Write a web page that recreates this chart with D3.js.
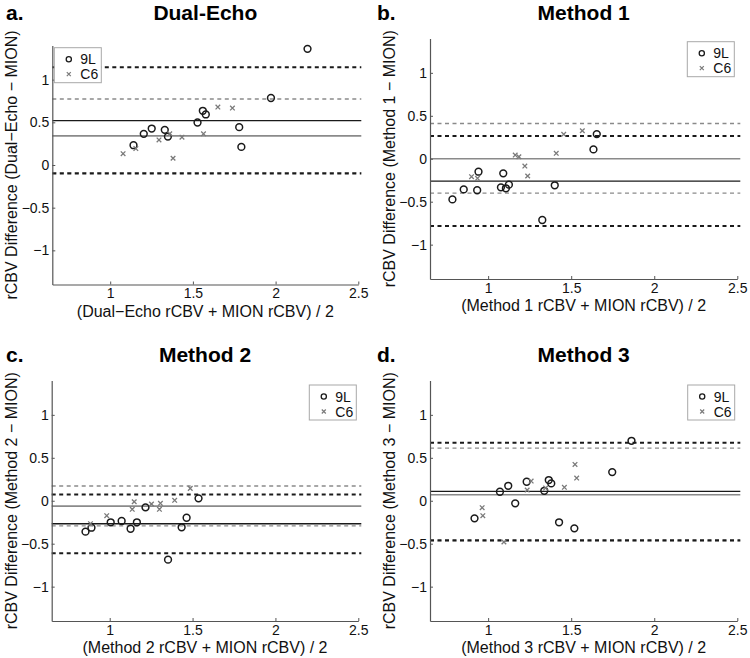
<!DOCTYPE html>
<html><head><meta charset="utf-8">
<script src="https://cdn.jsdelivr.net/npm/d3@7"></script>
<style>
body{margin:0;background:#fff}
text{font-family:"Liberation Sans",Arial,Helvetica,sans-serif}
</style>
</head><body>
<svg id="chart" width="750" height="658"></svg>
<script>
// ---- data ----
const xTicks = [1, 1.5, 2, 2.5];
const yTicks = [-1, -0.5, 0, 0.5, 1];
const xDomain = [0.65, 2.5];
const yDomain = [-1.4, 1.4];
const legendLabels = ["9L", "C6"];

// panel a: Dual-Echo
const dualEcho9L = [[1.141,0.232],[1.203,0.365],[1.251,0.427],[1.330,0.412],[1.349,0.333],[1.528,0.498],[1.560,0.635],[1.578,0.592],[1.780,0.443],[1.793,0.212],[1.972,0.785],[2.193,1.361]];
const dualEchoC6 = [[1.078,0.133],[1.155,0.192],[1.295,0.294],[1.360,0.365],[1.380,0.079],[1.434,0.326],[1.564,0.365],[1.651,0.679],[1.739,0.667]];
const dualEchoLines9L = [1.145, 0.52, -0.10];   // upper limit, mean, lower limit
const dualEchoLinesC6 = [0.773, 0.341, -0.09];

// panel b: Method 1
const method1_9L = [[0.785,-0.473],[0.853,-0.357],[0.934,-0.367],[0.942,-0.151],[1.077,-0.333],[1.091,-0.170],[1.107,-0.344],[1.125,-0.302],[1.401,-0.309],[1.326,-0.713],[1.634,0.109],[1.654,0.287]];
const method1_C6 = [[0.900,-0.209],[0.936,-0.228],[1.163,0.043],[1.185,0.023],[1.221,-0.085],[1.238,-0.201],[1.410,0.063],[1.455,0.284],[1.567,0.326]];
const method1Lines9L = [0.264, -0.26, -0.784];
const method1LinesC6 = [0.41, 0.0, -0.40];

// panel c: Method 2
const method2_9L = [[0.854,-0.360],[0.890,-0.314],[1.006,-0.251],[1.072,-0.236],[1.126,-0.326],[1.164,-0.251],[1.216,-0.077],[1.352,-0.686],[1.434,-0.309],[1.464,-0.198],[1.536,0.028]];
const method2_C6 = [[0.884,-0.267],[0.982,-0.174],[1.136,-0.100],[1.148,-0.012],[1.252,-0.038],[1.300,-0.100],[1.306,-0.030],[1.392,0.005],[1.486,0.144]];
const method2Lines9L = [0.074, -0.267, -0.61];
const method2LinesC6 = [0.171, -0.062, -0.293];

// panel d: Method 3
const method3_9L = [[0.918,-0.205],[1.071,0.105],[1.121,0.174],[1.163,-0.030],[1.232,0.221],[1.338,0.116],[1.365,0.241],[1.380,0.202],[1.427,-0.251],[1.519,-0.321],[1.747,0.334],[1.863,0.698]];
const method3_C6 = [[0.964,-0.081],[0.968,-0.174],[1.095,-0.480],[1.235,0.124],[1.259,0.229],[1.346,0.148],[1.459,0.156],[1.523,0.423],[1.533,0.264]];
const method3Lines9L = [0.674, 0.109, -0.46];
const method3LinesC6 = [0.613, 0.07, -0.47];

const panelLetters = ["a.", "b.", "c.", "d."];
const panelTitles = ["Dual-Echo", "Method 1", "Method 2", "Method 3"];
const methodNames = ["Dual\u2212Echo", "Method 1", "Method 2", "Method 3"];

// ---- layout ----
const panels = [
  {left:52.3, right:358.3, top:45.5, bottom:284.5, legend:[54.3,47.7], s9:dualEcho9L, sC:dualEchoC6, l9:dualEchoLines9L, lC:dualEchoLinesC6},
  {left:430, right:737.3, top:38.5, bottom:279, legend:[687.3,41.7], s9:method1_9L, sC:method1_C6, l9:method1Lines9L, lC:method1LinesC6},
  {left:51.7, right:358.3, top:380.5, bottom:621, legend:[309.3,385], s9:method2_9L, sC:method2_C6, l9:method2Lines9L, lC:method2LinesC6},
  {left:430, right:737.3, top:380.5, bottom:621, legend:[687.7,385], s9:method3_9L, sC:method3_C6, l9:method3Lines9L, lC:method3LinesC6}
];

const svg = d3.select("#chart");
const fmt = d => d < 0 ? "\u2212" + Math.abs(d) : String(d);
const AXIS = "#555", BLACK = "#1a1a1a", GRAY = "#7a7a7a";

panels.forEach((p, i) => {
  const g = svg.append("g");
  const x = d3.scaleLinear().domain(xDomain).range([p.left, p.right]);
  const y = d3.scaleLinear().domain(yDomain).range([p.bottom, p.top]);

  // reference lines (gray group first, black on top)
  const drawLines = (vals, color, solidW, dashW) => {
    vals.forEach((v, k) => {
      const dashed = k !== 1;
      g.append("line")
        .attr("x1", x(xDomain[0])).attr("x2", x(xDomain[1]) + 3)
        .attr("y1", y(v)).attr("y2", y(v))
        .attr("stroke", color)
        .attr("stroke-width", dashed ? dashW : solidW)
        .attr("stroke-dasharray", dashed ? "4,3.5" : null);
    });
  };
  drawLines(p.lC, "#8a8a8a", 1.6, 1.4);
  drawLines(p.l9, BLACK, 1.4, 2.0);

  // axes
  const ax = g.append("g").attr("transform", `translate(0,${p.bottom})`)
    .call(d3.axisBottom(x).tickValues(xTicks).tickFormat(fmt).tickSize(-3).tickSizeOuter(0).tickPadding(4));
  const ay = g.append("g").attr("transform", `translate(${p.left},0)`)
    .call(d3.axisLeft(y).tickValues(yTicks).tickFormat(fmt).tickSize(-3).tickSizeOuter(0).tickPadding(3));
  [ax, ay].forEach(a => {
    a.select(".domain").attr("stroke", AXIS).attr("stroke-width", 1.2);
    a.selectAll(".tick line").attr("stroke", AXIS);
    a.selectAll(".tick text").attr("fill", "#111").style("font-size", "14px")
      .style("font-family", '"Liberation Sans",Arial,sans-serif');
  });

  // markers: 9L circles
  g.selectAll(".c9").data(p.s9).enter().append("circle")
    .attr("cx", d => x(d[0])).attr("cy", d => y(d[1])).attr("r", 3.4)
    .attr("fill", "none").attr("stroke", BLACK).attr("stroke-width", 1.5);
  // C6 crosses
  const cs = 2.3;
  g.selectAll(".cc").data(p.sC).enter().append("path")
    .attr("d", d => {
      const cx = x(d[0]), cy = y(d[1]);
      return `M${cx-cs},${cy-cs}L${cx+cs},${cy+cs}M${cx-cs},${cy+cs}L${cx+cs},${cy-cs}`;
    })
    .attr("stroke", GRAY).attr("stroke-width", 1.3).attr("fill", "none");

  // titles
  const cx = (p.left + p.right) / 2;
  const titleY = i < 2 ? 20 : 361.5;
  g.append("text").attr("x", cx).attr("y", titleY).attr("text-anchor", "middle")
    .style("font-size", "21px").style("font-weight", "bold").attr("fill", "#000").text(panelTitles[i]);
  g.append("text").attr("x", i % 2 === 0 ? 6 : 377).attr("y", titleY)
    .style("font-size", "21px").style("font-weight", "bold").attr("fill", "#000").text(panelLetters[i]);

  // axis labels
  g.append("text").attr("x", cx).attr("y", p.bottom + 32).attr("text-anchor", "middle")
    .style("font-size", "16px").attr("fill", "#111")
    .text(`(${methodNames[i]} rCBV + MION rCBV) / 2`);
  const cy = (p.top + p.bottom) / 2;
  g.append("text").attr("transform", `translate(${p.left - 35},${cy}) rotate(-90)`)
    .attr("text-anchor", "middle").style("font-size", "16px").attr("fill", "#111")
    .text(`rCBV Difference (${methodNames[i]} \u2212 MION)`);

  // legend
  const [lx, ly] = p.legend;
  const lg = g.append("g").attr("transform", `translate(${lx},${ly})`);
  lg.append("rect").attr("width", 47).attr("height", 35).attr("fill", "#fff")
    .attr("stroke", "#a8a8a8").attr("stroke-width", 1);
  lg.append("circle").attr("cx", 14.5).attr("cy", 11.5).attr("r", 2.6)
    .attr("fill", "none").attr("stroke", BLACK).attr("stroke-width", 1.3);
  const lc = 2;
  lg.append("path").attr("d", `M${14.5-lc},${26.5-lc}L${14.5+lc},${26.5+lc}M${14.5-lc},${26.5+lc}L${14.5+lc},${26.5-lc}`)
    .attr("stroke", GRAY).attr("stroke-width", 1.2);
  legendLabels.forEach((t, k) => {
    lg.append("text").attr("x", 26).attr("y", 11.5 + k * 15 + 5)
      .style("font-size", "14px").attr("fill", "#111").text(t);
  });
});
</script>
</body></html>
